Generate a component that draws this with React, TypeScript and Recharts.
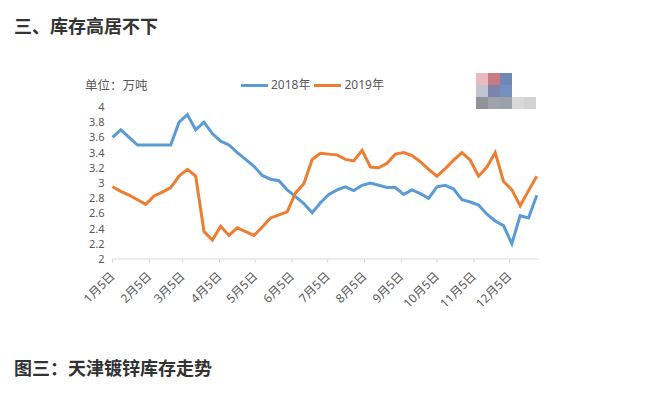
import React from "react";
import { LineChart, Line, XAxis, YAxis } from "recharts";

// weekly observations, starting 1月5日
const weekDays: number[] = Array.from({ length: 52 }, (_, i) => 5 + 7 * i);

const stock2018: number[] = [
  3.6, 3.7, 3.6, 3.5, 3.5, 3.5, 3.5, 3.5, 3.8, 3.9,
  3.7, 3.8, 3.65, 3.55, 3.5, 3.4, 3.31, 3.22, 3.1, 3.05,
  3.03, 2.91, 2.82, 2.73, 2.61, 2.74, 2.85, 2.91, 2.95, 2.9,
  2.97, 3.0, 2.97, 2.94, 2.94, 2.85, 2.91, 2.86, 2.8, 2.95,
  2.97, 2.92, 2.78, 2.75, 2.71, 2.59, 2.5, 2.44, 2.2, 2.57,
  2.54, 2.84,
];

const stock2019: number[] = [
  2.95, 2.89, 2.84, 2.78, 2.72, 2.83, 2.88, 2.94, 3.09, 3.18,
  3.09, 2.36, 2.25, 2.43, 2.31, 2.41, 2.36, 2.31, 2.42, 2.54,
  2.58, 2.62, 2.87, 2.99, 3.31, 3.39, 3.38, 3.37, 3.31, 3.29,
  3.43, 3.21, 3.2, 3.26, 3.38, 3.4, 3.36, 3.28, 3.18, 3.09,
  3.19, 3.3, 3.4, 3.3, 3.09, 3.21, 3.4, 3.02, 2.91, 2.7,
  2.9, 3.09,
];

const tickDays: number[] = [5, 36, 64, 95, 125, 156, 186, 217, 248, 278, 309, 339];
const tickLabels: string[] = [
  "1月5日", "2月5日", "3月5日", "4月5日", "5月5日", "6月5日",
  "7月5日", "8月5日", "9月5日", "10月5日", "11月5日", "12月5日",
];
const yTicks: number[] = [2, 2.2, 2.4, 2.6, 2.8, 3, 3.2, 3.4, 3.6, 3.8, 4];

const data = weekDays.map((day, i) => ({
  day,
  y2018: stock2018[i],
  y2019: stock2019[i],
}));

const BLUE = "#5b9bd5";
const ORANGE = "#ed7d31";
const FONT = '"Noto Sans", "Noto Sans CJK SC", sans-serif';
const CJK = '"Noto Sans CJK SC", sans-serif';

function MonthTick({ x, y, payload }: { x?: number; y?: number; payload?: { value: number } }) {
  const idx = tickDays.indexOf(payload?.value ?? -1);
  const tx = (x ?? 0) + 3;
  const ty = (y ?? 0) + 12;
  return (
    <text
      x={tx}
      y={ty}
      textAnchor="end"
      fill="#595959"
      fontSize={12}
      fontFamily={FONT}
      transform={`rotate(-45, ${tx}, ${ty})`}
    >
      {tickLabels[idx]}
    </text>
  );
}

// blurred watermark blocks in the corner
const mosaic: string[][] = [
  ["#e8bac1", "#c97b84", "#6f87b5", "", ""],
  ["#c2c4d1", "#7d84ab", "#7391c0", "", ""],
  ["#929399", "#9ea2ad", "#9ba0ab", "#d9d9d9", "#d2d2d2"],
];

export default function App() {
  return (
    <div
      style={{
        position: "absolute",
        left: 0,
        top: 0,
        width: 660,
        height: 397,
        background: "#fff",
        fontFamily: CJK,
      }}
    >
      <div
        style={{
          position: "absolute",
          left: 14,
          top: 12,
          fontSize: 18,
          fontWeight: 700,
          color: "#333",
          lineHeight: "26px",
        }}
      >
        三、库存高居不下
      </div>

      <LineChart
        width={660}
        height={397}
        data={data}
        margin={{ top: 107, right: 122, bottom: 0, left: 72.5 }}
        style={{ position: "absolute", left: 0, top: 0 }}
      >
        <XAxis
          dataKey="day"
          type="number"
          domain={[5, 363]}
          ticks={tickDays}
          interval={0}
          height={138}
          stroke="#d9d9d9"
          tickSize={4}
          tick={<MonthTick />}
        />
        <YAxis
          type="number"
          domain={[2, 4]}
          ticks={yTicks}
          interval={0}
          width={40}
          axisLine={false}
          tickLine={false}
          tick={{ fill: "#595959", fontSize: 11, fontFamily: FONT }}
          tickFormatter={(v: number) => String(Math.round(v * 10) / 10)}
        />
        <Line
          type="linear"
          dataKey="y2018"
          stroke={BLUE}
          strokeWidth={3}
          dot={false}
          isAnimationActive={false}
        />
        <Line
          type="linear"
          dataKey="y2019"
          stroke={ORANGE}
          strokeWidth={3}
          dot={false}
          isAnimationActive={false}
        />
      </LineChart>

      <div
        style={{
          position: "absolute",
          left: 85,
          top: 76,
          fontSize: 12.5,
          color: "#595959",
          lineHeight: "18px",
        }}
      >
        单位：万吨
      </div>

      <div
        style={{
          position: "absolute",
          left: 241,
          top: 76,
          display: "flex",
          alignItems: "center",
          fontSize: 12,
          color: "#595959",
          lineHeight: "18px",
          fontFamily: FONT,
        }}
      >
        <span style={{ display: "inline-block", width: 27, height: 3, background: BLUE }} />
        <span style={{ marginLeft: 3 }}>2018年</span>
        <span style={{ display: "inline-block", width: 27, height: 3, background: ORANGE, marginLeft: 4 }} />
        <span style={{ marginLeft: 3 }}>2019年</span>
      </div>

      <div style={{ position: "absolute", left: 476, top: 73 }}>
        {mosaic.map((row, r) => (
          <div key={r} style={{ display: "flex", height: 12 }}>
            {row.map((c, k) => (
              <div key={k} style={{ width: 12, height: 12, background: c || "transparent" }} />
            ))}
          </div>
        ))}
      </div>

      <div
        style={{
          position: "absolute",
          left: 14,
          top: 354,
          fontSize: 18,
          fontWeight: 700,
          color: "#333",
          lineHeight: "26px",
        }}
      >
        图三：天津镀锌库存走势
      </div>
    </div>
  );
}
